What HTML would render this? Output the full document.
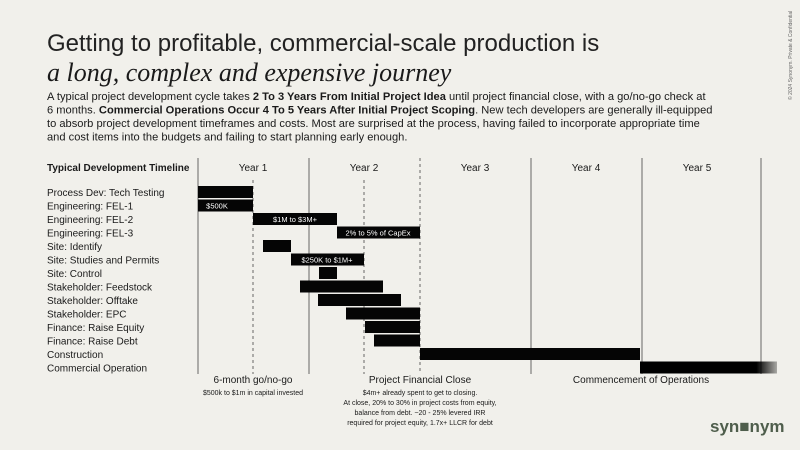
<!DOCTYPE html>
<html><head><meta charset="utf-8"><style>
body{margin:0;background:#f1f0eb;}
svg{display:block}
text{font-family:"Liberation Sans",sans-serif;fill:#1a1a1a}
text.w{fill:#fff}
</style></head><body>
<svg width="800" height="450" viewBox="0 0 800 450" xmlns="http://www.w3.org/2000/svg">
<rect width="800" height="450" fill="#f1f0eb"/>
<text x="47" y="51" font-size="24" style="fill:#222">Getting to profitable, commercial-scale production is</text>
<text x="47" y="81" font-size="26" font-style="italic" style="font-family:'Liberation Serif',serif">a long, complex and expensive journey</text>
<g font-size="10.6" transform="translate(47,0) scale(1.05,1)">
<text x="0" y="100">A typical project development cycle takes <tspan font-weight="bold">2 To 3 Years From Initial Project Idea</tspan> until project financial close, with a go/no-go check at</text>
<text x="0" y="113.5">6 months. <tspan font-weight="bold">Commercial Operations Occur 4 To 5 Years After Initial Project Scoping</tspan>. New tech developers are generally ill-equipped</text>
<text x="0" y="127">to absorb project development timeframes and costs. Most are surprised at the process, having failed to incorporate appropriate time</text>
<text x="0" y="140.5">and cost items into the budgets and failing to start planning early enough.</text>
</g>
<text transform="translate(792,100) rotate(-90)" font-size="5" style="fill:#666">© 2024 Synonym. Private &amp; Confidential</text>

<text x="47" y="171" font-size="10" font-weight="bold">Typical Development Timeline</text>
<g font-size="10" text-anchor="middle">
<text x="253" y="171">Year 1</text><text x="364" y="171">Year 2</text><text x="475" y="171">Year 3</text><text x="586" y="171">Year 4</text><text x="697" y="171">Year 5</text>
</g>
<g stroke="#666" stroke-width="1">
<line x1="198" y1="158" x2="198" y2="374"/>
<line x1="309" y1="158" x2="309" y2="374"/>
<line x1="531" y1="158" x2="531" y2="374"/>
<line x1="642" y1="158" x2="642" y2="374"/>
<line x1="761" y1="158" x2="761" y2="374"/>
</g>
<g stroke="#666" stroke-width="1" stroke-dasharray="3,3">
<line x1="253" y1="180" x2="253" y2="374"/>
<line x1="364" y1="180" x2="364" y2="374"/>
<line x1="420" y1="158" x2="420" y2="374"/>
</g>
<g font-size="10">
<text x="47" y="196">Process Dev: Tech Testing</text>
<text x="47" y="209.5">Engineering: FEL-1</text>
<text x="47" y="223">Engineering: FEL-2</text>
<text x="47" y="236.5">Engineering: FEL-3</text>
<text x="47" y="250">Site: Identify</text>
<text x="47" y="263.5">Site: Studies and Permits</text>
<text x="47" y="277">Site: Control</text>
<text x="47" y="290.5">Stakeholder: Feedstock</text>
<text x="47" y="304">Stakeholder: Offtake</text>
<text x="47" y="317.5">Stakeholder: EPC</text>
<text x="47" y="331">Finance: Raise Equity</text>
<text x="47" y="344.5">Finance: Raise Debt</text>
<text x="47" y="358">Construction</text>
<text x="47" y="371.5">Commercial Operation</text>
</g>
<defs><linearGradient id="fade" x1="0" x2="1"><stop offset="0.85" stop-color="#000"/><stop offset="1" stop-color="#000" stop-opacity="0.3"/></linearGradient></defs>
<g fill="#050505">
<rect x="198" y="186" width="55" height="12"/>
<rect x="198" y="199.5" width="55" height="12"/>
<rect x="253" y="213" width="84" height="12"/>
<rect x="337" y="226.5" width="83" height="12"/>
<rect x="263" y="240" width="28" height="12"/>
<rect x="291" y="253.5" width="73" height="12"/>
<rect x="319" y="267" width="18" height="12"/>
<rect x="300" y="280.5" width="83" height="12"/>
<rect x="318" y="294" width="83" height="12"/>
<rect x="346" y="307.5" width="74" height="12"/>
<rect x="365" y="321" width="55" height="12"/>
<rect x="374" y="334.5" width="46" height="12"/>
<rect x="420" y="348" width="220" height="12"/>
<rect x="640" y="361.5" width="137" height="12" fill="url(#fade)"/>
</g>
<g font-size="7.5" text-anchor="middle">
<text class="w" x="217" y="208.5">$500K</text>
<text class="w" x="295" y="222">$1M to $3M+</text>
<text class="w" x="378" y="235.5">2% to 5% of CapEx</text>
<text class="w" x="327" y="262.5">$250K to $1M+</text>
</g>
<g text-anchor="middle">
<text x="253" y="383" font-size="10">6-month go/no-go</text>
<text x="253" y="395" font-size="7">$500k to $1m in capital invested</text>
<text x="420" y="383" font-size="10">Project Financial Close</text>
<g font-size="7">
<text x="420" y="395">$4m+ already spent to get to closing.</text>
<text x="420" y="405">At close, 20% to 30% in project costs from equity,</text>
<text x="420" y="415">balance from debt. ~20 - 25% levered IRR</text>
<text x="420" y="425">required for project equity, 1.7x+ LLCR for debt</text>
</g>
<text x="641" y="383" font-size="10">Commencement of Operations</text>
</g>
<text x="710" y="432" font-size="17" font-weight="bold" style="fill:#4f5e4c">syn■nym</text>
</svg>
</body></html>
